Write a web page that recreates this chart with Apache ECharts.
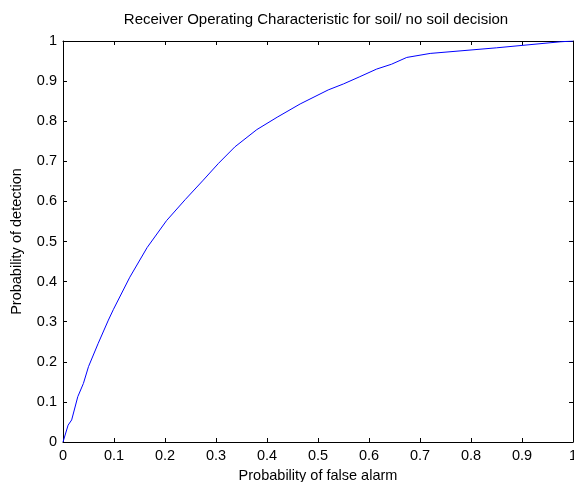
<!DOCTYPE html>
<html>
<head>
<meta charset="utf-8">
<script src="https://cdn.jsdelivr.net/npm/echarts@6/dist/echarts.min.js"></script>
<style>
  html, body { margin: 0; padding: 0; background: #fff; overflow: hidden; }
  #chart { width: 574px; height: 482px; }
</style>
</head>
<body>
<div id="chart"></div>
<script>
// ROC curve points
const falseAlarm = [0, 0.010, 0.017, 0.029, 0.040, 0.050, 0.069, 0.089, 0.099, 0.131, 0.165, 0.203, 0.240, 0.275, 0.305, 0.337, 0.380, 0.420, 0.465, 0.520, 0.550, 0.582, 0.615, 0.644, 0.674, 0.720, 0.850, 0.975, 1];
const detection  = [0, 0.042, 0.055, 0.113, 0.146, 0.188, 0.246, 0.304, 0.331, 0.411, 0.485, 0.552, 0.605, 0.653, 0.695, 0.736, 0.779, 0.810, 0.843, 0.878, 0.893, 0.911, 0.930, 0.942, 0.959, 0.969, 0.983, 0.998, 1];
const xTicks = [0, 0.1, 0.2, 0.3, 0.4, 0.5, 0.6, 0.7, 0.8, 0.9, 1];
const yTicks = [0, 0.1, 0.2, 0.3, 0.4, 0.5, 0.6, 0.7, 0.8, 0.9, 1];

const font = "Liberation Sans, Arial, sans-serif";
const fmt = (v) => String(Math.round(v * 10) / 10);

const frameAxis = (extra) => Object.assign({
  type: "value",
  min: 0,
  max: 1,
  interval: 0.1,
  axisLine: { show: true, onZero: false, lineStyle: { color: "#000", width: 1 } },
  axisTick: { show: true, inside: true, length: 4, lineStyle: { color: "#000" } },
  splitLine: { show: false },
}, extra);

const chart = echarts.init(document.getElementById("chart"));
chart.setOption({
  animation: false,
  backgroundColor: "#fff",
  title: {
    text: "Receiver Operating Characteristic for soil/ no soil decision",
    left: 311,
    top: 7,
    textAlign: "center",
    textStyle: { fontFamily: font, fontSize: 15, fontWeight: "normal", color: "#000" },
  },
  // v6 shrinks the grid to keep labels inside by default; the reference lets "1" run off the edge
  grid: { left: 63, right: 1, top: 41, bottom: 40, containLabel: false, outerBoundsMode: "none" },
  xAxis: [
    frameAxis({
      position: "bottom",
      name: "Probability of false alarm",
      nameLocation: "middle",
      nameGap: 26,
      nameTextStyle: { fontFamily: font, fontSize: 14.5, color: "#000" },
      axisLabel: { fontFamily: font, fontSize: 14.5, color: "#000", margin: 6, formatter: fmt, customValues: xTicks },
    }),
    frameAxis({ position: "top", axisLabel: { show: false } }),
  ],
  yAxis: [
    frameAxis({
      position: "left",
      name: "Probability of detection",
      nameLocation: "middle",
      nameGap: 39,
      nameTextStyle: { fontFamily: font, fontSize: 14.5, color: "#000" },
      axisLabel: { fontFamily: font, fontSize: 14.5, color: "#000", margin: 6, formatter: fmt, customValues: yTicks },
    }),
    frameAxis({ position: "right", axisLabel: { show: false } }),
  ],
  series: [
    {
      type: "line",
      data: falseAlarm.map((x, i) => [x, detection[i]]),
      showSymbol: false,
      lineStyle: { color: "#0000ff", width: 1 },
      itemStyle: { color: "#0000ff" },
    },
  ],
});
</script>
</body>
</html>
